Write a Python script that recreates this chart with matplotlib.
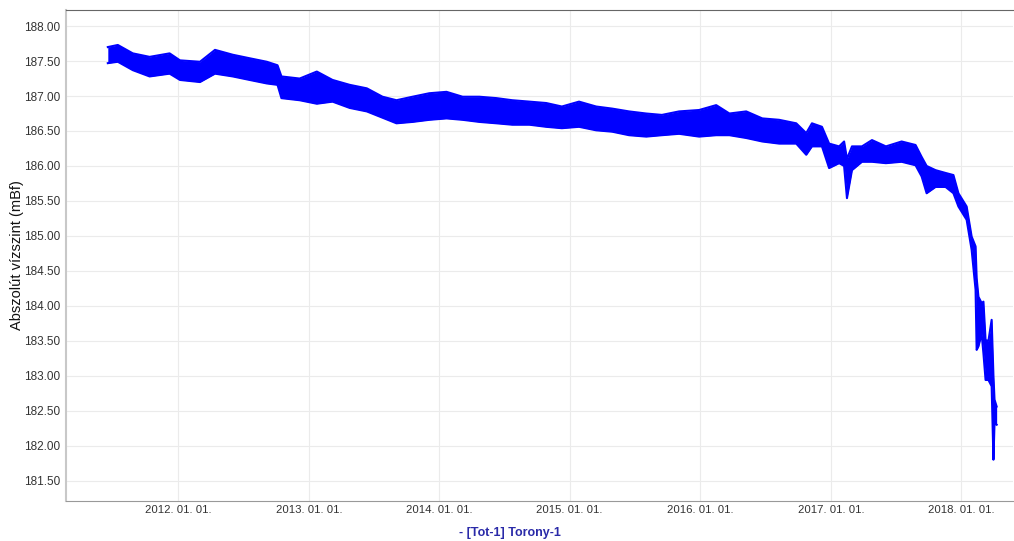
import matplotlib
matplotlib.use('Agg')
import matplotlib.pyplot as plt
import matplotlib.dates as mdates
import numpy as np
import pandas as pd

# dates, with the top / bottom of the noisy band
dates = ['2011-06-18', '2011-07-16', '2011-08-27', '2011-10-13', '2011-12-08',
         '2012-01-06', '2012-03-02', '2012-04-13', '2012-06-02', '2012-07-19',
         '2012-09-05', '2012-10-05', '2012-10-16', '2012-12-06', '2013-01-23',
         '2013-03-08', '2013-04-25', '2013-06-12', '2013-07-26', '2013-09-03',
         '2013-10-18', '2013-12-04', '2014-01-21', '2014-03-07', '2014-04-23',
         '2014-06-10', '2014-07-24', '2014-09-10', '2014-10-27', '2014-12-10',
         '2015-01-27', '2015-03-16', '2015-04-30', '2015-06-16', '2015-08-03',
         '2015-09-16', '2015-11-03', '2015-12-29', '2016-02-15', '2016-03-23',
         '2016-05-09', '2016-06-23', '2016-08-09', '2016-09-26', '2016-10-24',
         '2016-11-09', '2016-12-07', '2016-12-27', '2017-01-24', '2017-02-07',
         '2017-02-15', '2017-03-01', '2017-03-29', '2017-04-26', '2017-06-04',
         '2017-07-18', '2017-08-26', '2017-09-12', '2017-09-26', '2017-10-21',
         '2017-11-18', '2017-12-10', '2017-12-24', '2018-01-16', '2018-01-30',
         '2018-02-10', '2018-02-13', '2018-02-18', '2018-02-27', '2018-03-04',
         '2018-03-10', '2018-03-18', '2018-03-27', '2018-04-01', '2018-04-04',
         '2018-04-10']

upper = [187.70, 187.73, 187.61, 187.56, 187.61,
         187.51, 187.49, 187.66, 187.59, 187.54,
         187.49, 187.44, 187.28, 187.25, 187.35,
         187.23, 187.16, 187.11, 186.99, 186.94,
         186.99, 187.04, 187.06, 186.99, 186.99,
         186.97, 186.94, 186.92, 186.90, 186.85,
         186.92, 186.85, 186.82, 186.78, 186.75,
         186.73, 186.78, 186.80, 186.87, 186.75,
         186.78, 186.68, 186.66, 186.61, 186.47,
         186.61, 186.56, 186.32, 186.28, 186.35,
         186.10, 186.28, 186.28, 186.37, 186.28,
         186.35, 186.30, 186.13, 186.00, 185.94,
         185.90, 185.87, 185.61, 185.42, 184.99,
         184.85, 184.40, 184.13, 184.04, 184.06,
         183.51, 183.50, 183.80, 183.00, 182.66,
         182.56]

lower = [187.47, 187.49, 187.37, 187.28, 187.32,
         187.23, 187.20, 187.32, 187.28, 187.23,
         187.18, 187.16, 186.97, 186.94, 186.89,
         186.92, 186.83, 186.78, 186.69, 186.61,
         186.63, 186.66, 186.68, 186.66, 186.63,
         186.61, 186.59, 186.59, 186.56, 186.54,
         186.56, 186.51, 186.49, 186.44, 186.42,
         186.44, 186.46, 186.42, 186.44, 186.44,
         186.40, 186.35, 186.32, 186.32, 186.16,
         186.28, 186.28, 185.97, 186.04, 186.00,
         185.54, 185.94, 186.06, 186.06, 186.04,
         186.06, 186.01, 185.85, 185.61, 185.70,
         185.70, 185.61, 185.42, 185.23, 184.80,
         184.23, 183.37, 183.42, 183.60, 183.32,
         182.94, 182.94, 182.85, 181.80, 182.32,
         182.30]

yticks = np.arange(181.5, 188.01, 0.5)
xticks = ['2012-01-01', '2013-01-01', '2014-01-01', '2015-01-01',
          '2016-01-01', '2017-01-01', '2018-01-01']

plt.rcParams['font.family'] = ['Liberation Sans', 'DejaVu Sans']

t = pd.to_datetime(dates)

fig = plt.figure(figsize=(10.14, 5.41), dpi=100)
ax = fig.add_axes([0.0651, 0.074, 0.934, 0.9075])

blue = '#0000ff'
ax.fill_between(t, lower, upper, color=blue, linewidth=0)
ax.plot(t, upper, color=blue, lw=1.5)
ax.plot(t, lower, color=blue, lw=1.5)

ax.set_xlim(pd.Timestamp('2011-02-21'), pd.Timestamp('2018-05-26'))
ax.set_ylim(181.21, 188.23)

ax.set_yticks(yticks)
ax.yaxis.set_major_formatter(matplotlib.ticker.FormatStrFormatter('%.2f'))
ax.set_xticks(pd.to_datetime(xticks))
ax.xaxis.set_major_formatter(mdates.DateFormatter('%Y. %m. %d.'))

ax.grid(True, color='#ebebeb', lw=0.8)
ax.set_axisbelow(True)
ax.tick_params(axis='y', length=0, labelsize=8.5, colors='#333333', pad=4)
ax.tick_params(axis='x', length=0, labelsize=8.2, colors='#333333', pad=3)

ax.spines['top'].set_color('#666666')
ax.spines['right'].set_visible(False)
ax.spines['left'].set_color('#c8c8c8')
ax.spines['left'].set_linewidth(1.5)
ax.spines['bottom'].set_color('#999999')

fig.text(17 / 1014, 1 - 255 / 541, 'Abszolút vízszint (mBf)', rotation=90,
         fontsize=10.5, color='#111111', ha='center', va='center')
fig.text(510 / 1014, 1 - 533 / 541, '- [Tot-1] Torony-1', fontsize=9,
         color='#2a2aa8', fontweight='bold', ha='center', va='center')

fig.savefig('out.png', dpi=100)
